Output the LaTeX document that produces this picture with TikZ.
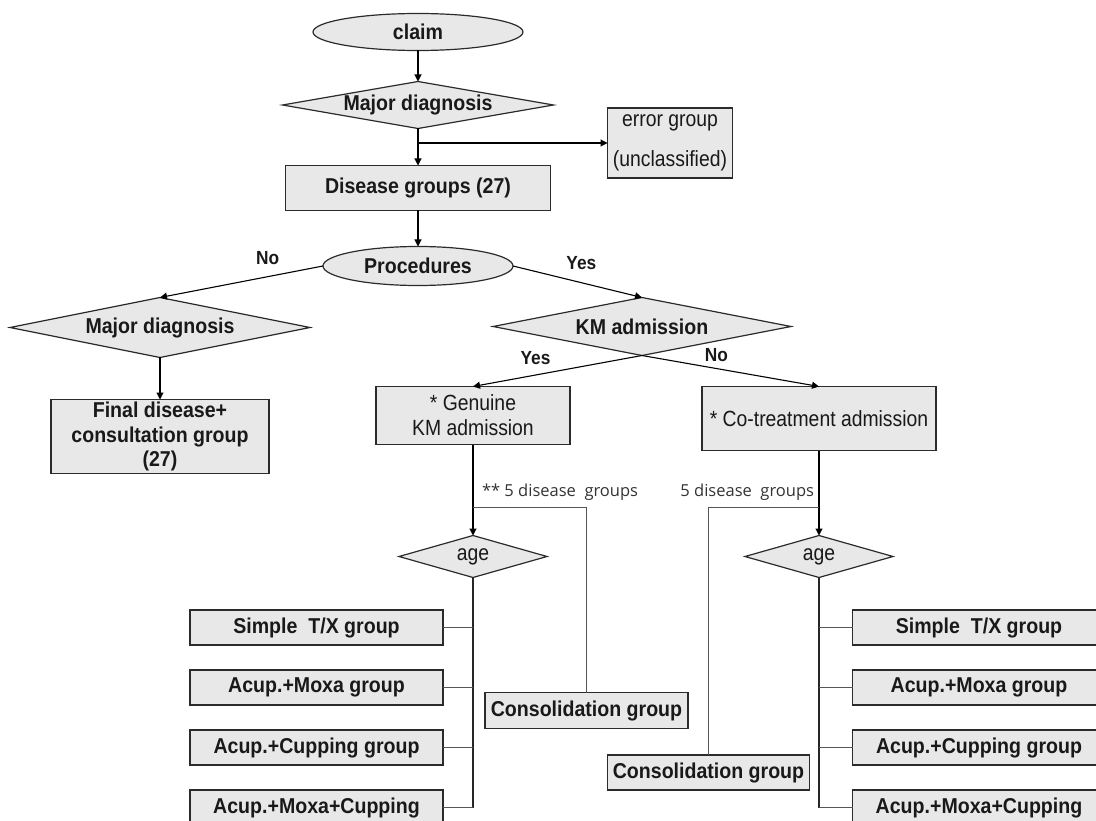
\documentclass[tikz,border=0pt]{standalone}
\usepackage{fontspec}
\setmainfont{Liberation Sans}[FakeStretch=0.91]
\newfontfamily\narrowfont{Liberation Sans}[FakeStretch=0.88]
\newfontfamily\notefont{Open Sans}
\usetikzlibrary{positioning,shapes.geometric,arrows.meta,calc}

\definecolor{boxfill}{HTML}{E8E8E8}
\definecolor{boxline}{HTML}{2B2B2B}
\definecolor{treeline}{HTML}{555555}

\tikzset{
  every node/.style={outer sep=0pt, inner sep=0pt, text=black!90},
  boldtext/.style={font=\fontsize{21.5}{24.5}\selectfont\bfseries},
  lighttext/.style={font=\fontsize{22}{25}\selectfont\narrowfont},
  term/.style={ellipse, draw=boxline, line width=1.2pt, fill=boxfill, boldtext},
  decision/.style={diamond, aspect=6, draw=boxline, line width=1.2pt, fill=boxfill},
  process/.style={rectangle, draw=boxline, line width=1.3pt, fill=boxfill, align=center},
  group/.style={process, boldtext, minimum width=253pt, minimum height=35pt},
  edgelabel/.style={font=\fontsize{19}{22}\selectfont\bfseries},
  note/.style={font=\fontsize{16.5}{19}\selectfont\notefont, text=black!80},
  arr/.style={-{Triangle[length=7pt,width=7pt]}, line width=1.1pt, draw=black},
  link/.style={line width=1.5pt, draw=treeline},
}

\begin{document}
\begin{tikzpicture}

  \path[use as bounding box, clip] (0,0) rectangle (1096pt,-821pt);

  % Define nodes

  % claim
  \node[term, minimum width=210pt, minimum height=37pt] (claim) at (418pt,-32pt) {claim}; %

  % first diagnosis and error group
  \node[decision, boldtext, minimum width=271pt, minimum height=47pt, below=31pt of claim] (diag) {Major diagnosis}; %
  \node[process, boldtext, minimum width=265pt, minimum height=45pt, below=37pt of diag] (dis) {Disease groups (27)}; %
  \node[process, font=\fontsize{22}{40}\selectfont\narrowfont, minimum width=125pt, minimum height=70pt,
        right=57pt of dis, yshift=45pt] (err) {error group\\(unclassified)}; %

  % procedures
  \node[term, minimum width=190pt, minimum height=39pt, below=36pt of dis] (proc) {Procedures}; %

  % no procedures
  \node[decision, boldtext, minimum width=300pt, minimum height=60pt, below=12pt of proc, xshift=-258pt] (diagno) {Major diagnosis}; %
  \node[process, boldtext, minimum width=218pt, minimum height=74pt, below=42pt of diagno] (final) {Final disease+\\consultation group\\(27)}; %

  % procedures: KM admission
  \node[decision, boldtext, minimum width=298pt, minimum height=58pt, below=12pt of proc, xshift=224pt] (km) {KM admission}; %
  \node[process, lighttext, minimum width=194pt, minimum height=58pt, below=31pt of km, xshift=-169pt] (genuine) {* Genuine\\KM admission}; %
  \node[process, lighttext, minimum width=234pt, minimum height=64pt, below=31pt of km, xshift=177pt] (cotreat) {* Co-treatment admission}; %

  % age splits
  \node[decision, lighttext, minimum width=148pt, minimum height=42pt, below=91pt of genuine] (agegen) {age}; %
  \node[decision, lighttext, minimum width=148pt, minimum height=42pt, below=85pt of cotreat] (agecot) {age}; %

  % genuine KM groups
  \node[group, below=32.5pt of agegen, xshift=-156.5pt] (simplegen) {Simple\ \ T/X group}; %
  \node[group, below=25pt of simplegen] (moxagen) {Acup.+Moxa group}; %
  \node[group, below=25pt of moxagen]   (cupgen)  {Acup.+Cupping group}; %
  \node[group, below=25pt of cupgen]    (allgen)  {Acup.+Moxa+Cupping}; %
  \node[process, boldtext, minimum width=203pt, minimum height=36pt, right=42pt of moxagen, yshift=-23pt] (consgen) {Consolidation group}; %

  % co-treatment groups
  \node[group, below=32.5pt of agecot, xshift=160pt] (simplecot) {Simple\ \ T/X group}; %
  \node[group, below=25pt of simplecot] (moxacot) {Acup.+Moxa group}; %
  \node[group, below=25pt of moxacot]   (cupcot)  {Acup.+Cupping group}; %
  \node[group, below=25pt of cupcot]    (allcot)  {Acup.+Moxa+Cupping}; %
  \node[process, boldtext, minimum width=202pt, minimum height=35pt, left=43pt of cupcot, yshift=-25pt] (conscot) {Consolidation group}; %

  % forks to consolidation
  \coordinate (forkgen) at ($(genuine.south)!0.69!(agegen.north)$); %
  \coordinate (forkcot) at ($(cotreat.south)!0.67!(agecot.north)$); %
  \node[note, above right=7pt and 9pt of forkgen] (notegen) {** 5 disease\ \ groups}; %
  \node[note, above left=7pt and 5pt of forkcot]  (notecot) {5 disease\ \ groups}; %

  % Edges
  \draw[arr] (claim) -- (diag);
  \draw[arr] (diag) -- (dis);
  \draw[arr] (diag.south |- err.west) -- (err.west);
  \draw[arr] (dis) -- (proc);
  \draw[arr] (proc.west) -- node[edgelabel, pos=0.34, above=12pt] (lblno) {No} (diagno.north);
  \draw[arr] (proc.east) -- node[edgelabel, pos=0.53, above=13pt] (lblyes) {Yes} (km.north);
  \draw[arr] (diagno) -- (final);
  \draw[arr] (km.south) -- node[edgelabel, pos=0.63, above=10pt] (lblkmyes) {Yes} (genuine.north);
  \draw[arr] (km.south) -- node[edgelabel, pos=0.42, above=7pt] (lblkmno) {No} (cotreat.north);

  % genuine KM tree
  \draw[arr] (genuine) -- (agegen);
  \draw[link] (forkgen) -| (consgen.north);
  \draw[line width=1.2pt, draw=black!85] (agegen.south) -- (agegen.south |- allgen.east);
  \draw[link] (simplegen.east) -- (simplegen.east -| agegen.south);
  \draw[link] (moxagen.east) -- (moxagen.east -| agegen.south);
  \draw[link] (cupgen.east) -- (cupgen.east -| agegen.south);
  \draw[link] (allgen.east) -- (allgen.east -| agegen.south);

  % co-treatment tree
  \draw[arr] (cotreat) -- (agecot);
  \draw[link] (forkcot) -| (conscot.north);
  \draw[line width=1.2pt, draw=black!85] (agecot.south) -- (agecot.south |- allcot.west);
  \draw[link] (simplecot.west) -- (simplecot.west -| agecot.south);
  \draw[link] (moxacot.west) -- (moxacot.west -| agecot.south);
  \draw[link] (cupcot.west) -- (cupcot.west -| agecot.south);
  \draw[link] (allcot.west) -- (allcot.west -| agecot.south);

\end{tikzpicture}
\end{document}
